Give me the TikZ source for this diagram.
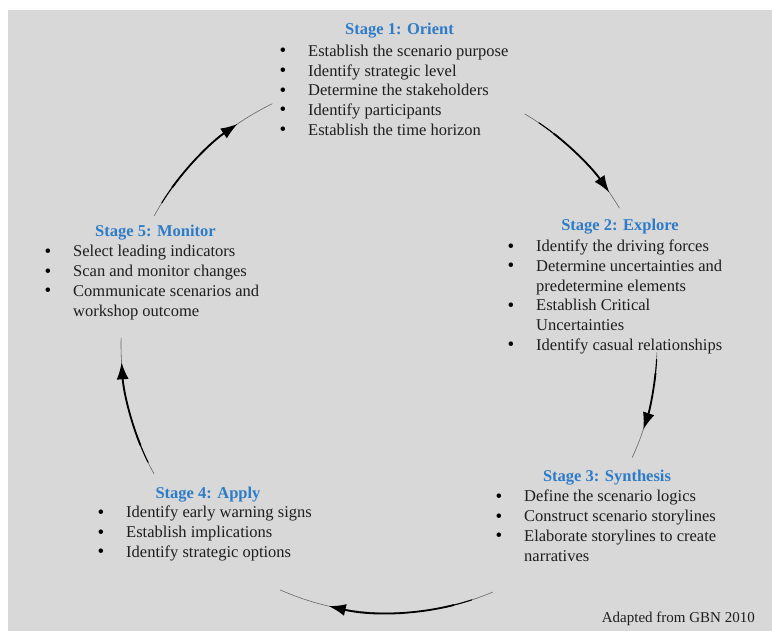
\documentclass[tikz,border=0pt]{standalone}
\usepackage{fontspec}
\setmainfont{Liberation Serif}
\usetikzlibrary{arrows.meta}
\definecolor{bggray}{RGB}{216,216,216}
\definecolor{stageblue}{RGB}{46,124,200}
\definecolor{bodytext}{RGB}{30,30,30}
\newcommand{\bl}{\textcolor{black}{\raisebox{-0.4pt}{\fontsize{19}{19.7}\selectfont\textbullet}}}
\tikzset{
  stagetitle/.style={anchor=base, inner sep=0pt, text=stageblue, font=\fontsize{16.5}{19.7}\selectfont\bfseries},
  stagelist/.style={anchor=base west, inner sep=0pt, text=bodytext, font=\fontsize{16.5}{19.7}\selectfont},
  thinarc/.style={draw=black!60, line width=0.6pt},
  midarc/.style={draw=black, line width=1.1pt},
  thickarc/.style={draw=black, line width=1.8pt, -{Latex[length=17pt,width=12pt]}},
}
\newenvironment{blist}{\begin{tabular}[t]{@{}p{28.5pt}@{}l@{}}}{\end{tabular}}
\begin{document}
\begin{tikzpicture}[x=1pt,y=1pt]
\useasboundingbox (0,0) rectangle (772,631);
\fill[bggray] (8,0) rectangle (772,621);
\coordinate (c) at (389,286);

% titles
\node[stagetitle] (t1) at (399.5,596) {Stage 1: Orient};
\node[stagetitle] (t2) at (620,400) {Stage 2: Explore};
\node[stagetitle] (t3) at (607,149) {Stage 3: Synthesis};
\node[stagetitle] (t4) at (208,132) {Stage 4: Apply};
\node[stagetitle] (t5) at (155.5,394) {Stage 5: Monitor};

% lists
\node[stagelist] (l1) at (279.5,574.5) {\begin{blist}
\bl & Establish the scenario purpose\\
\bl & Identify strategic level\\
\bl & Determine the stakeholders\\
\bl & Identify participants\\
\bl & Establish the time horizon
\end{blist}};
\node[stagelist] (l2) at (507.5,379.3) {\begin{blist}
\bl & Identify the driving forces\\
\bl & Determine uncertainties and\\
    & predetermine elements\\
\bl & Establish Critical\\
    & Uncertainties\\
\bl & Identify casual relationships
\end{blist}};
\node[stagelist] (l3) at (495.5,129) {\begin{blist}
\bl & Define the scenario logics\\
\bl & Construct scenario storylines\\
\bl & Elaborate storylines to create\\
    & narratives
\end{blist}};
\node[stagelist] (l4) at (97.5,113) {\begin{blist}
\bl & Identify early warning signs\\
\bl & Establish implications\\
\bl & Identify strategic options
\end{blist}};
\node[stagelist] (l5) at (44.5,374) {\begin{blist}
\bl & Select leading indicators\\
\bl & Scan and monitor changes\\
\bl & Communicate scenarios and\\
    & workshop outcome
\end{blist}};

\node[anchor=base east, inner sep=0pt, text=bodytext, font=\fontsize{15}{18}\selectfont] (src) at (755,8) {Adapted from GBN 2010};

% cycle arrows (thin grey ends, thick black middle)
\draw[thinarc] ([shift={(59.6:268pt)}]c) arc[start angle=59.6, end angle=30.7, radius=268pt];
\draw[midarc] ([shift={(56:268pt)}]c) arc[start angle=56, end angle=50, radius=268pt];
\draw[thickarc] ([shift={(52:268pt)}]c) arc[start angle=52, end angle=34.7, radius=268pt];

\draw[thinarc] ([shift={(-1.5:268pt)}]c) arc[start angle=-1.5, end angle=-24.8, radius=268pt];
\draw[midarc] ([shift={(-3:268pt)}]c) arc[start angle=-3, end angle=-8, radius=268pt];
\draw[thickarc] ([shift={(-6:268pt)}]c) arc[start angle=-6, end angle=-18.4, radius=268pt];

\draw[thinarc] ([shift={(-67.2:268pt)}]c) arc[start angle=-67.2, end angle=-114, radius=268pt];
\draw[midarc] ([shift={(-72:268pt)}]c) arc[start angle=-72, end angle=-78, radius=268pt];
\draw[thickarc] ([shift={(-76:268pt)}]c) arc[start angle=-76, end angle=-103, radius=268pt];

\draw[thinarc] ([shift={(208.7:268pt)}]c) arc[start angle=208.7, end angle=178.5, radius=268pt];
\draw[midarc] ([shift={(206:268pt)}]c) arc[start angle=206, end angle=200, radius=268pt];
\draw[thickarc] ([shift={(202:268pt)}]c) arc[start angle=202, end angle=183.7, radius=268pt];

\draw[thinarc] ([shift={(151.2:268pt)}]c) arc[start angle=151.2, end angle=115.8, radius=268pt];
\draw[midarc] ([shift={(148:268pt)}]c) arc[start angle=148, end angle=142, radius=268pt];
\draw[thickarc] ([shift={(144:268pt)}]c) arc[start angle=144, end angle=124.4, radius=268pt];
\end{tikzpicture}
\end{document}
